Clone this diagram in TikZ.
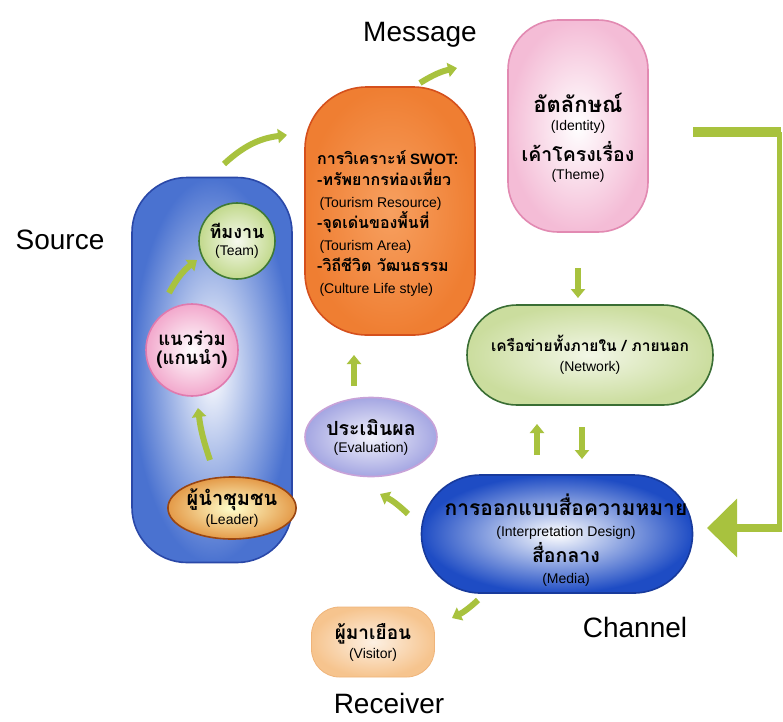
\documentclass[tikz,border=0pt]{standalone}
\usepackage{fontspec}
\setmainfont{Liberation Sans}
\newfontfamily\thai[Script=Thai]{Loma}
\usetikzlibrary{arrows.meta,shapes.geometric}

\definecolor{arrowgreen}{HTML}{A8C23E}
\definecolor{srcblue}{HTML}{4A72D0}
\definecolor{srcedge}{HTML}{2A48A8}
\definecolor{teamedge}{HTML}{3F7A35}
\definecolor{teamfill}{HTML}{C2D98C}
\definecolor{pinkedge}{HTML}{E07AAE}
\definecolor{pinkfill}{HTML}{F2A8CC}
\definecolor{leaderedge}{HTML}{9A4612}
\definecolor{leaderfill}{HTML}{E49A48}
\definecolor{swotedge}{HTML}{D5501C}
\definecolor{swotfill}{HTML}{EF7E32}
\definecolor{swotlight}{HTML}{F7A060}
\definecolor{idedge}{HTML}{E28AB2}
\definecolor{idfill}{HTML}{F4BCD6}
\definecolor{netedge}{HTML}{3A6E34}
\definecolor{netfill}{HTML}{CBDD9E}
\definecolor{evaledge}{HTML}{C8A2D8}
\definecolor{evalfill}{HTML}{A4A6E2}
\definecolor{designedge}{HTML}{183A9C}
\definecolor{designfill}{HTML}{1E4CC4}
\definecolor{visitfill}{HTML}{F6C48E}
\definecolor{visitedge}{HTML}{EFB47A}

% Thai heading text (optional size) and English captions
\newcommand\thb[2][19]{{\thai\bfseries\fontsize{#1}{#1}\selectfont #2}}
\newcommand\enl[1]{{\fontsize{14}{16}\selectfont #1}}

\tikzset{
  garrow/.style={draw=arrowgreen, line width=6pt,
    -{Triangle[length=9pt,width=14pt]}},
  bigtitle/.style={font=\fontsize{28}{32}\selectfont, inner sep=1pt},
  caption/.style={align=center, inner sep=0pt},
  gap/.style={font=\fontsize{14}{#1}\selectfont},
  blob/.style={line width=1.6pt, inner sep=0pt},
}

\begin{document}
\begin{tikzpicture}[x=1pt,y=-1pt]
\useasboundingbox (0,0) rectangle (783,721);
\fill[white] (0,0) rectangle (783,721);

% ---------- titles ----------
\node[bigtitle] (tmessage) at (420,35) {Message};
\node[bigtitle] (tsource) at (60,240) {Source};
\node[bigtitle] (tchannel) at (635,627) {Channel};
\node[bigtitle] (treceiver) at (389,703) {Receiver};

% ---------- source group ----------
\node[blob, draw=srcedge, rounded corners=55pt, minimum width=160pt,
      minimum height=385pt, inner color=white, outer color=srcblue]
      (source) at (212,370) {};
\node[blob, circle, draw=teamedge, minimum size=76pt,
      inner color=white!85!teamfill, outer color=teamfill, caption, gap=17.5]
      (team) at (237,241) {\thb[18]{ทีมงาน}\\\enl{(Team)}};
\node[blob, circle, draw=pinkedge, minimum size=92pt,
      inner color=white, outer color=pinkfill, caption, gap=19]
      (ally) at (192,350) {\thb[18.5]{แนวร่วม}\\\thb[18.5]{(แกนนำ)}};
\node[blob, ellipse, draw=leaderedge, minimum width=118pt, minimum height=62pt,
      inner color=white!80!yellow, outer color=leaderfill, caption, gap=19]
      (leader) at (232,508) {\thb[20]{ผู้นำชุมชน}\\\enl{(Leader)}};

% ---------- message ----------
\node[blob, draw=swotedge, rounded corners=62pt, minimum width=170pt,
      minimum height=248pt, inner color=swotlight, outer color=swotfill]
      (swot) at (390,211) {};
\node[anchor=west, align=left, inner sep=0pt, gap=21.5]
      (swottext) at (317,223)
      {\thb[16]{การวิเคราะห์} {\fontsize{15}{19}\selectfont\bfseries SWOT:}\\
       \thb[16]{-ทรัพยากรท่องเที่ยว}\\
       \enl{\,(Tourism Resource)}\\
       \thb[16]{-จุดเด่นของพื้นที่}\\
       \enl{\,(Tourism Area)}\\
       \thb[16]{-วิถีชีวิต วัฒนธรรม}\\
       \enl{\,(Culture Life style)}};

\node[blob, draw=idedge, rounded corners=50pt, minimum width=140pt,
      minimum height=212pt, inner color=white, outer color=idfill]
      (identity) at (578,126) {};
\node[caption, gap=18] (idtext) at (578,138)
      {\thb[22]{อัตลักษณ์}\\\enl{(Identity)}\\[7pt]\thb[19.5]{เค้าโครงเรื่อง}\\\enl{(Theme)}};

\node[blob, draw=netedge, rounded corners=50pt, minimum width=246pt,
      minimum height=100pt, inner color=white!75!netfill, outer color=netfill,
      caption, gap=20]
      (network) at (590,355) {\thb[15.5]{เครือข่ายทั้งภายใน / ภายนอก}\\\enl{(Network)}};

% ---------- channel ----------
\node[blob, draw=designedge, rounded corners=59pt, minimum width=271pt,
      minimum height=118pt, inner color=white, outer color=designfill]
      (design) at (557,534) {};
\node[caption, gap=21] (designtext) at (566,540)
      {\thb[21]{การออกแบบสื่อความหมาย}\\\enl{(Interpretation Design)}\\[2pt]
       \thb[19.5]{สื่อกลาง}\\\enl{(Media)}};

\node[blob, ellipse, draw=evaledge, minimum width=132pt, minimum height=79pt,
      inner color=white!85!evalfill, outer color=evalfill, caption, gap=17]
      (evaluation) at (371,437) {\thb[19.5]{ประเมินผล}\\\enl{(Evaluation)}};

% ---------- receiver ----------
\node[blob, draw=visitedge, line width=0.8pt, rounded corners=28pt,
      minimum width=123pt, minimum height=70pt,
      inner color=white!75!visitfill, outer color=visitfill, caption, gap=19]
      (visitor) at (373,642) {\thb[19]{ผู้มาเยือน}\\\enl{(Visitor)}};

% ---------- flow arrows ----------
\coordinate (s1) at (224,164);  \coordinate (s2) at (287,135);
\coordinate (m1) at (420,83);   \coordinate (m2) at (457,68);
\coordinate (a1) at (169,293);  \coordinate (a2) at (197,260);
\coordinate (l1) at (210,460);  \coordinate (l2) at (198,408);
\coordinate (e1) at (354,386);  \coordinate (e2) at (354,355);
\coordinate (i1) at (578,268);  \coordinate (i2) at (578,298);
\coordinate (n1) at (537,455);  \coordinate (n2) at (537,424);
\coordinate (n3) at (582,427);  \coordinate (n4) at (582,459);
\coordinate (d1) at (408,514);  \coordinate (d2) at (380,494);
\coordinate (v1) at (478,600);  \coordinate (v2) at (452,618);

\draw[garrow] (s1) to[bend left=18] (s2);
\draw[garrow] (m1) to[bend left=10] (m2);
\draw[garrow] (a1) to[bend left=12] (a2);
\draw[garrow] (l1) to[bend left=6] (l2);
\draw[garrow] (e1) -- (e2);
\draw[garrow] (i1) -- (i2);
\draw[garrow] (n1) -- (n2);
\draw[garrow] (n3) -- (n4);
\draw[garrow] (d1) to[bend right=8] (d2);
\draw[garrow] (v1) to[bend left=8] (v2);

% feedback bracket on the right, ending at the channel
\coordinate (b1) at (693,132);
\coordinate (b2) at (779,132);
\coordinate (b3) at (779,528);
\coordinate (b4) at (707,528);
\draw[draw=arrowgreen, line width=10pt] (b1) -- ([xshift=2pt]b2);
\draw[draw=arrowgreen, line width=5pt] (b2) -- (b3);
\draw[draw=arrowgreen, line width=8pt,
      -{Triangle[length=30pt,width=57pt]}] ([xshift=2.5pt]b3) -- (b4);
\end{tikzpicture}
\end{document}
